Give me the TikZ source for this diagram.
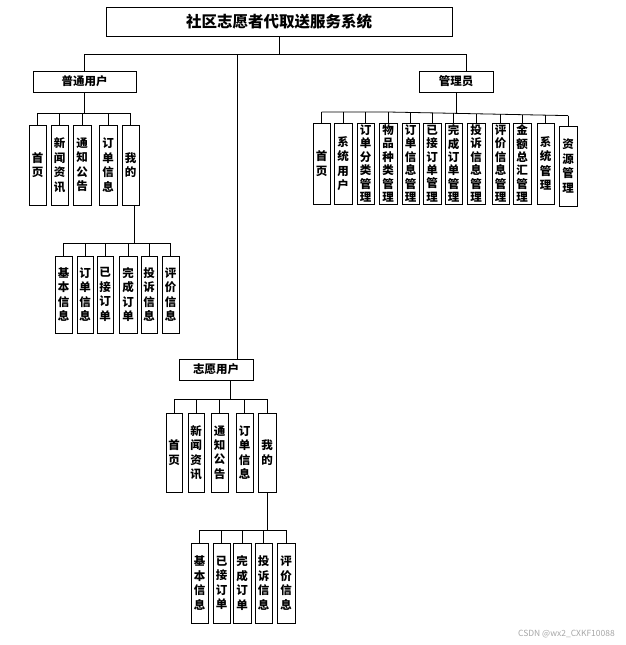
\documentclass[tikz,border=0pt]{standalone}
\usepackage{fontspec}
\setmainfont{Noto Sans CJK SC}
\usetikzlibrary{shadows}
\tikzset{
  box/.style={draw=black, line width=0.9pt, fill=white, inner sep=0pt, align=center,
    font=\fontsize{11.5}{14.5}\selectfont\bfseries,
    drop shadow={shadow xshift=1.3pt, shadow yshift=-1.3pt, fill=gray!60, opacity=1}},
  six/.style={font=\fontsize{11.5}{13.4}\selectfont\bfseries},
  conn/.style={line width=0.8pt, draw=black},
}
\newcommand\bxat[7][]{%
  \pgfmathsetmacro\bxcx{(#3+#5)/2}%
  \pgfmathsetmacro\bxcy{(#4+#6)/2}%
  \pgfmathsetmacro\bxww{#5-#3}%
  \pgfmathsetmacro\bxhh{#6-#4}%
  \node[box, minimum width=\bxww pt, minimum height=\bxhh pt, #1] (#2) at (\bxcx,\bxcy) {#7};}
\begin{document}
\begin{tikzpicture}[x=1pt, y=-1pt]
\useasboundingbox (0,0) rectangle (625,645);
% top level
\bxat[font=\fontsize{15.5}{18}\selectfont\bfseries]{title}{106}{7}{452}{36}{社区志愿者代取送服务系统}
\bxat[font=\fontsize{11.5}{14}\selectfont\bfseries]{u}{33}{71}{136}{92}{普通用户}
\bxat[font=\fontsize{11.5}{14}\selectfont\bfseries]{a}{419}{71}{493}{92}{管理员}
\bxat[font=\fontsize{11.5}{14}\selectfont\bfseries]{v}{179}{359}{253}{380}{志愿用户}
% 普通用户 children
\bxat{u1}{29}{125}{46}{205}{首\\页}
\bxat{u2}{51}{125}{68}{205}{新\\闻\\资\\讯}
\bxat{u3}{73}{125}{91}{205}{通\\知\\公\\告}
\bxat{u4}{99}{125}{117}{205}{订\\单\\信\\息}
\bxat{u5}{122}{125}{139}{205}{我\\的}
% 我的 (普通用户) children
\bxat{g1}{55}{256}{72}{333}{基\\本\\信\\息}
\bxat{g2}{77}{256}{93}{333}{订\\单\\信\\息}
\bxat{g3}{97}{256}{113}{333}{已\\接\\订\\单}
\bxat{g4}{119}{256}{137}{333}{完\\成\\订\\单}
\bxat{g5}{141}{256}{157}{333}{投\\诉\\信\\息}
\bxat{g6}{162}{256}{179}{333}{评\\价\\信\\息}
% 志愿用户 children
\bxat{v1}{166}{413}{182}{492}{首\\页}
\bxat{v2}{188}{413}{204}{492}{新\\闻\\资\\讯}
\bxat{v3}{211}{413}{228}{492}{通\\知\\公\\告}
\bxat{v4}{236}{413}{253}{492}{订\\单\\信\\息}
\bxat{v5}{258}{413}{276}{492}{我\\的}
% 我的 (志愿用户) children
\bxat{w1}{191}{543}{208}{623}{基\\本\\信\\息}
\bxat{w2}{213}{543}{230}{623}{已\\接\\订\\单}
\bxat{w3}{233}{543}{251}{623}{完\\成\\订\\单}
\bxat{w4}{255}{543}{272}{623}{投\\诉\\信\\息}
\bxat{w5}{277}{543}{295}{623}{评\\价\\信\\息}
% 管理员 children
\bxat{r1}{313}{123}{330}{204}{首\\页}
\bxat{r2}{334}{123}{352}{204}{系\\统\\用\\户}
\bxat[six]{r3}{357}{123}{374}{204}{订\\单\\分\\类\\管\\理}
\bxat[six]{r4}{379}{123}{397}{204}{物\\品\\种\\类\\管\\理}
\bxat[six]{r5}{402}{123}{419}{204}{订\\单\\信\\息\\管\\理}
\bxat[six]{r6}{423}{123}{441}{204}{已\\接\\订\\单\\管\\理}
\bxat[six]{r7}{445}{123}{462}{204}{完\\成\\订\\单\\管\\理}
\bxat[six]{r8}{467}{123}{485}{204}{投\\诉\\信\\息\\管\\理}
\bxat[six]{r9}{492}{123}{509}{204}{评\\价\\信\\息\\管\\理}
\bxat[six]{r10}{513}{123}{531}{204}{金\\额\\总\\汇\\管\\理}
\bxat{r11}{537}{123}{554}{204}{系\\统\\管\\理}
\bxat{r12}{559}{126}{577}{206}{资\\源\\管\\理}
% connector points
\coordinate (mb) at (279,54);
\coordinate (vtop) at (237,359);
\coordinate (atop) at (466,71);
\coordinate (vbot) at (230,380);
\coordinate (umy) at (134.5,205);
\coordinate (rbL) at (321.5,112);
\coordinate (rbM) at (388,112);
\coordinate (rbR) at (568,115.6);
\coordinate (rbA) at (456,113.4);
% connectors
\draw[conn] (title.south) -- (mb);
\draw[conn] (mb) -| (u.north);
\draw[conn] (mb) -| (vtop);
\draw[conn] (mb) -| (atop);
\foreach \c in {u1,u2,u3,u4,u5} \draw[conn] (u.south) -- ++(0,21) -| (\c.north);
\foreach \c in {g1,g2,g3,g4,g5,g6} \draw[conn] (umy) -- ++(0,38) -| (\c.north);
\foreach \c in {v1,v2,v3,v4,v5} \draw[conn] (vbot) -- ++(0,19) -| (\c.north);
\foreach \c in {w1,w2,w3,w4,w5} \draw[conn] (v5.south) -- ++(0,38) -| (\c.north);
\draw[conn] (a.south) -- (rbA);
\draw[conn] (rbL) -- (rbM) -- (rbR);
\foreach \c/\y in {r1/112,r2/112,r3/112,r4/112,r5/112.45,r6/112.88,r7/113.31,r8/113.76,r9/114.25,r10/114.68,r11/115.15,r12/115.6}
  \draw[conn] (\c.north) -- (\c.north |- 0,\y);
% watermark
\node[anchor=east, text=gray!70, font=\fontsize{8.5}{10}\selectfont, inner sep=0pt] (wm) at (615,634) {CSDN @wx2\_CXKF10088};
\end{tikzpicture}
\end{document}
